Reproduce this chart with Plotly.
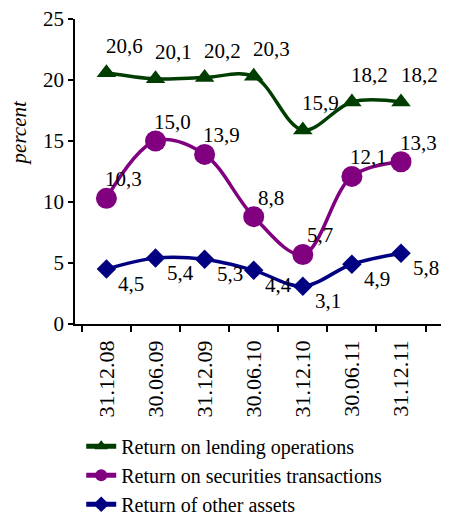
import plotly.graph_objects as go

categories = ["31.12.08", "30.06.09", "31.12.09", "30.06.10", "31.12.10", "30.06.11", "31.12.11"]
lending = [20.6, 20.1, 20.2, 20.3, 15.9, 18.2, 18.2]
securities = [10.3, 15.0, 13.9, 8.8, 5.7, 12.1, 13.3]
other = [4.5, 5.4, 5.3, 4.4, 3.1, 4.9, 5.8]

series_names = ["Return on lending operations", "Return on securities transactions", "Return of other assets"]
y_ticks = [0, 5, 10, 15, 20, 25]

FONT = "'Liberation Serif', 'Times New Roman', Times, serif"
FS = 21

def lbl(vals):
    return [f"{v:.1f}".replace(".", ",") for v in vals]

# (values, name, colour, symbol, marker size, label dx, label dy)
specs = [
    (lending, series_names[0], "#003d00", "triangle-up", 17, 18, 27),
    (securities, series_names[1], "#800080", "circle", 21, 17, 19),
    (other, series_names[2], "#000080", "diamond", 15, 25, -15),
]

fig = go.Figure()
annotations = []
for vals, name, color, sym, msize, dx, dy in specs:
    fig.add_trace(go.Scatter(
        x=categories, y=vals, name=name, mode="lines+markers",
        line=dict(color=color, width=3.5, shape="spline", smoothing=1),
        marker=dict(symbol=sym, size=msize, color=color), cliponaxis=False))
    for c, v, t in zip(categories, vals, lbl(vals)):
        annotations.append(dict(x=c, y=v, xref="x", yref="y", text=t, showarrow=False,
                                xshift=dx, yshift=dy, xanchor="center", yanchor="middle",
                                font=dict(family=FONT, size=FS, color="black")))

annotations.append(dict(text="<i>percent</i>", xref="paper", yref="paper", x=-0.153, y=0.625,
                        xanchor="center", yanchor="middle", textangle=-90, showarrow=False,
                        font=dict(family=FONT, size=FS, color="black")))

# the page body has an 8px margin, so the figure is 8px smaller and shifted
fig.update_layout(
    width=450, height=512,
    margin=dict(l=67, r=17, t=11, b=196, autoexpand=False),
    paper_bgcolor="white", plot_bgcolor="white",
    font=dict(family=FONT, size=FS, color="black"),
    showlegend=True,
    legend=dict(x=0.017, y=-0.337, xanchor="left", yanchor="top",
                font=dict(family=FONT, size=20, color="black"),
                itemsizing="constant",
                tracegroupgap=0, bgcolor="rgba(0,0,0,0)"),
    xaxis=dict(type="category", showline=True, linecolor="black", linewidth=1.5,
               ticks="outside", ticklen=6, tickwidth=1.5, tickcolor="black",
               tickson="boundaries", tickangle=-90, showgrid=False, zeroline=False,
               ticklabelstandoff=6, ticklabeloverflow="allow",
               automargin=False, tickfont=dict(family=FONT, size=22)),
    yaxis=dict(range=[0, 25], tickvals=y_ticks, showline=True, linecolor="black", linewidth=1.5,
               ticks="outside", ticklen=5, tickwidth=1.5, tickcolor="black",
               ticklabeloverflow="allow",
               showgrid=False, zeroline=False, automargin=False, tickfont=dict(family=FONT, size=FS)),
    annotations=annotations,
)

fig.write_html("out.html")
